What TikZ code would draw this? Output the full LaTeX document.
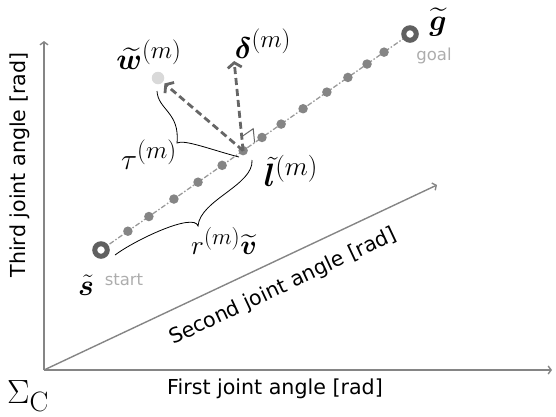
\RequirePackage{fix-cm}
\documentclass[tikz,border=0pt]{standalone}
\usepackage{amsmath,bm,graphicx}
\usepackage[no-math]{fontspec}
\newfontfamily\axisfont{DejaVu Sans}
\usetikzlibrary{arrows.meta,calc}
\definecolor{axisgray}{HTML}{858585}
\definecolor{arrowgray}{HTML}{666666}
\definecolor{dotgray}{HTML}{858585}
\definecolor{ringgray}{HTML}{606060}
\definecolor{linegray}{HTML}{9A9A9A}
\definecolor{wgray}{HTML}{D9D9D9}
\definecolor{txtgray}{HTML}{ADADAD}
\newcommand{\mlarge}[1]{\scalebox{1.2}{$#1$}}
\tikzset{
  axisline/.style={draw=axisgray, line width=1.4pt, -{Straight Barb[length=3pt,width=8pt]}},
  axislabel/.style={font=\axisfont\fontsize{20.6}{24}\selectfont, inner sep=0pt},
  pathline/.style={draw=linegray, line width=1.3pt, dash pattern=on 5pt off 2pt on 1.5pt off 2pt},
  pdot/.style={circle, fill=dotgray, minimum size=9.5pt, inner sep=0pt},
  ring/.style={circle, draw=ringgray, fill=white, line width=5pt, minimum size=12.5pt, inner sep=0pt},
  wdot/.style={circle, fill=wgray, minimum size=12.5pt, inner sep=0pt},
  dasharrow/.style={draw=arrowgray, line width=2.8pt, dash pattern=on 7pt off 4pt, -{Straight Barb[length=5pt,width=14pt]}},
  mlabel/.style={font=\fontsize{24.88}{28}\selectfont, inner sep=0pt},
  smalltxt/.style={font=\axisfont\fontsize{16.5}{18}\selectfont, text=txtgray, inner sep=0pt},
  bracecurve/.style={draw=black, line width=0.8pt},
  rightmark/.style={draw=arrowgray, line width=1pt}
}
\begin{document}
\begin{tikzpicture}[x=1pt,y=-1pt]
\useasboundingbox (0,0) rectangle (556,416);
% axes
\coordinate (O) at (44,370);
\coordinate (xend) at (552,370);
\coordinate (yend) at (44,41);
\coordinate (zend) at (437,185);
\draw[axisline] (O) -- (xend);
\draw[axisline] (O) -- (yend);
\draw[axisline] (O) -- (zend);
\node[axislabel, rotate=90] (ylab) at (20,165) {Third joint angle [rad]};
\node[axislabel] (xlab) at (275,389) {First joint angle [rad]};
\node[axislabel, rotate=25.2] (zlab) at (283,287) {Second joint angle [rad]};
\node[mlabel] (sigma) at (28,396) {\scalebox{1.35}{$\Sigma_{\mathrm{C}}$}};
% path
\coordinate (s0) at (101,250);
\coordinate (g0) at (410,34);
\draw[pathline] (s0) -- (g0);
\foreach \t [count=\i] in {0.087,0.155,0.236,0.314,0.392,0.460,0.521,0.583,0.654,0.731,0.799,0.861,0.916}{
  \node[pdot] (d\i) at ($(s0)!\t!(g0)$) {};
}
\node[ring] (start) at (s0) {};
\node[ring] (goal) at (g0) {};
\coordinate (l) at (d6.center);
\node[wdot] (w) at (158,78) {};
% arrows
\coordinate (dtip) at (234,60);
\draw[dasharrow, shorten >=1pt] (l) -- (dtip);
\draw[dasharrow, shorten >=2pt] (l) -- (w);
% right angle mark
\coordinate (p1) at ($(l)!14pt!(dtip)$);
\coordinate (p2) at ($(l)!14pt!(g0)$);
\draw[rightmark] (p1) -- ($(p1)+(p2)-(l)$) -- (p2);
% braces
\draw[bracecurve] (157,91) .. controls (158,110) and (180,112) .. (177,143)
                  .. controls (184,139) and (212,150) .. (239,157);
\draw[bracecurve] (252,160) .. controls (254,185) and (200,200) .. (198,226)
                  .. controls (194,212) and (135,240) .. (115,255);
% labels
\node[mlabel] (wlab) at (149,55) {\mlarge{\widetilde{\bm{w}}^{(m)}}};
\node[mlabel] (dlab) at (263,44) {\mlarge{\bm{\delta}^{(m)}}};
\node[mlabel] (taulab) at (149,155) {\mlarge{\tau^{(m)}}};
\node[mlabel] (llab) at (291,171) {\scalebox{1.3}{$\tilde{\bm{l}}^{(m)}$}};
\node[mlabel] (rlab) at (224,241) {\scalebox{1.1}{$r^{(m)}\widetilde{\bm{v}}$}};
\node[mlabel] (slab) at (86,285) {\mlarge{\tilde{\bm{s}}}};
\node[mlabel] (glab) at (438,22) {\mlarge{\widetilde{\bm{g}}}};
\node[smalltxt] (starttxt) at (124,280) {start};
\node[smalltxt] (goaltxt) at (434,56) {goal};
\end{tikzpicture}
\end{document}
